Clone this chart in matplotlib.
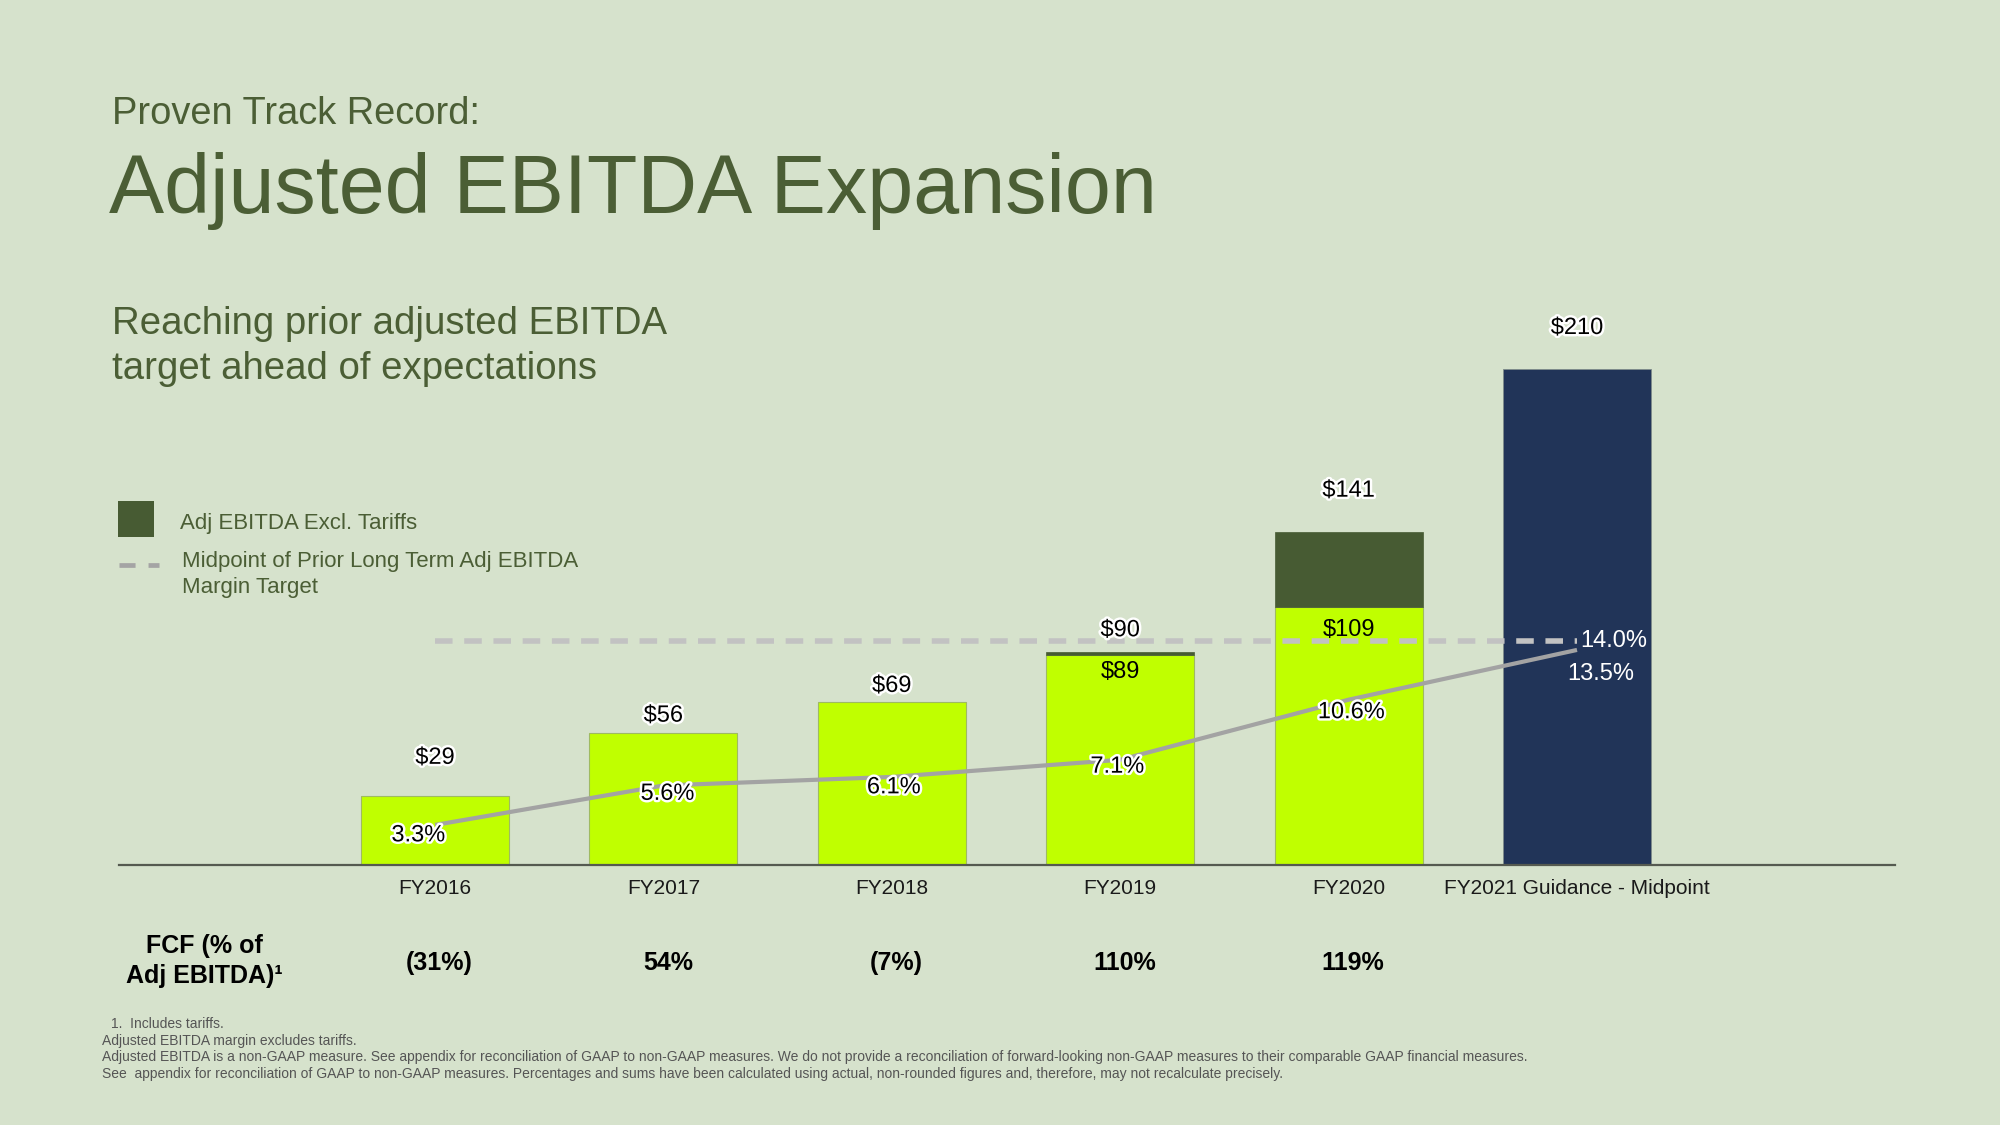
import matplotlib
matplotlib.use("Agg")
import matplotlib.pyplot as plt
import matplotlib.patheffects as pe
from matplotlib.patches import Rectangle
from matplotlib.lines import Line2D

# ---------------- data ----------------
categories = ['FY2016', 'FY2017', 'FY2018', 'FY2019', 'FY2020', 'FY2021 Guidance - Midpoint']
adj_ebitda = [29, 56, 69, 89, 109]          # incl. tariffs (lime bars)
excl_tariffs_total = [None, None, None, 90, 141]  # totals excl. tariffs
guidance = 210                               # FY2021 guidance midpoint
margin_pct = [3.3, 5.6, 6.1, 7.1, 10.6, 13.5]
target_pct = 14.0
top_labels = ['$29', '$56', '$69', '$90', '$141', '$210']
inner_labels = [None, None, None, '$89', '$109']
fcf_labels = ['(31%)', '54%', '(7%)', '110%', '119%']
footnotes = [
    "1.  Includes tariffs.",
    "Adjusted EBITDA margin excludes tariffs.",
    "Adjusted EBITDA is a non-GAAP measure. See appendix for reconciliation of GAAP to non-GAAP measures. We do not provide a reconciliation of forward-looking non-GAAP measures to their comparable GAAP financial measures.",
    "See  appendix for reconciliation of GAAP to non-GAAP measures. Percentages and sums have been calculated using actual, non-rounded figures and, therefore, may not recalculate precisely.",
]

# ---------------- style ----------------
BG = '#d6e2cc'
OLIVE = '#4b5e35'
LIME = '#c0ff00'
DARKG = '#475b33'
NAVY = '#213458'
LINEG = '#a3a3a3'
DASHG = '#c2c2c2'
FONT = 'Liberation Sans'
plt.rcParams['font.family'] = [FONT, 'DejaVu Sans']

W, H = 2000, 1125
def fx(px): return px / W
def fy(px): return 1 - px / H

fig = plt.figure(figsize=(20, 11.25), dpi=100)
fig.patch.set_facecolor(BG)

base_y = 865
top_y = 300
ax = fig.add_axes([fx(119), fy(base_y), fx(1895) - fx(119), (base_y - top_y) / H])
ax.set_facecolor('none')
spacing = 228.4
x0 = 435
ax.set_xlim(-(x0 - 119) / spacing, (1895 - x0) / spacing)
ax.set_ylim(0, (base_y - top_y) / 2.364)
for s in ['top', 'left', 'right']:
    ax.spines[s].set_visible(False)
ax.spines['bottom'].set_color('#555a50')
ax.spines['bottom'].set_linewidth(1.6)
ax.set_yticks([])
ax.set_xticks([])

ax2 = ax.twinx()
ax2.set_ylim(0.967, 0.967 + (base_y - top_y) / 17.16)
ax2.set_axis_off()

xs = list(range(len(categories)))
bw = 0.648

# bars
n_hist = len(adj_ebitda)
ax.bar(xs[:n_hist], adj_ebitda, width=bw, color=LIME, edgecolor='#9fba62', linewidth=0.8, zorder=2)
for i in range(n_hist):
    if excl_tariffs_total[i] is not None:
        ax.bar(xs[i], excl_tariffs_total[i] - adj_ebitda[i], bottom=adj_ebitda[i], width=bw,
               color=DARKG, edgecolor=DARKG, linewidth=0.5, zorder=2)
ax.bar(xs[-1], guidance, width=bw, color=NAVY, edgecolor='#7f8c8a', linewidth=0.6, zorder=2)

# margin line & target
ax2.plot(xs, margin_pct, color=LINEG, lw=3.0, zorder=3, solid_capstyle='butt')
ax2.plot([xs[0], xs[-1]], [target_pct, target_pct], color=DASHG, lw=4.0,
         linestyle=(0, (3.16, 2.1)), zorder=3)

stroke = [pe.withStroke(linewidth=3.5, foreground='white')]

# top value labels
top_vals = [adj_ebitda[0], adj_ebitda[1], adj_ebitda[2], excl_tariffs_total[3], excl_tariffs_total[4], guidance]
top_off = [27.8, 12.2, 11.5, 15.8, 29.5, 29.2]
for i, (v, lab) in enumerate(zip(top_vals, top_labels)):
    ax2.annotate(lab, xy=(xs[i], v), xycoords=ax.transData, xytext=(0, top_off[i]),
                 textcoords='offset points', ha='center', va='center', fontsize=17,
                 color='black', path_effects=stroke, zorder=5)
inner_off = [0, 0, 0, -12.2, -16.5]
for i, lab in enumerate(inner_labels):
    if lab:
        ax2.annotate(lab, xy=(xs[i], adj_ebitda[i]), xycoords=ax.transData, xytext=(0, inner_off[i]),
                     textcoords='offset points', ha='center', va='center', fontsize=17,
                     color='black', zorder=5)

# margin labels
pct_off = [(-12, -7.5), (3, -6), (1.5, -7.5), (-2, -5), (2, -9)]
for i in range(n_hist):
    ax2.annotate(f"{margin_pct[i]:.1f}%", xy=(xs[i], margin_pct[i]), xytext=pct_off[i],
                 textcoords='offset points', ha='center', va='center', fontsize=17,
                 color='black', path_effects=stroke, zorder=6)
ax2.annotate(f"{margin_pct[-1]:.1f}%", xy=(xs[-1], margin_pct[-1]), xytext=(17, -17),
             textcoords='offset points', ha='center', va='center', fontsize=17, color='white', zorder=6)
ax2.annotate(f"{target_pct:.1f}%", xy=(xs[-1], target_pct), xytext=(2, 0),
             textcoords='offset points', ha='left', va='center', fontsize=17, color='white', zorder=6)

# category labels
tr = ax.get_xaxis_transform()
for i, c in enumerate(categories):
    ax.text(xs[i], (base_y - 889) / (base_y - top_y), c, transform=tr, ha='center', va='center',
            fontsize=15, color='#1a1a1a')
# FCF row
for i, f in enumerate(fcf_labels):
    ax.text(xs[i] + 0.02, (base_y - 963) / (base_y - top_y), f, transform=tr, ha='center', va='center',
            fontsize=18, fontweight='bold', color='black')
fig.text(fx(204), fy(946), "FCF (% of", ha='center', va='center', fontsize=18, fontweight='bold', color='black')
fig.text(fx(204), fy(976), "Adj EBITDA)\u00b9", ha='center', va='center', fontsize=18, fontweight='bold', color='black')

# titles
fig.text(fx(112), fy(124), "Proven Track Record:", ha='left', va='baseline', fontsize=27.4, color=OLIVE)
fig.text(fx(109), fy(213), "Adjusted EBITDA Expansion", ha='left', va='baseline', fontsize=59.5, color=OLIVE)
fig.text(fx(112), fy(334), "Reaching prior adjusted EBITDA", ha='left', va='baseline', fontsize=27.6, color=OLIVE)
fig.text(fx(112), fy(379), "target ahead of expectations", ha='left', va='baseline', fontsize=27.6, color=OLIVE)

# legend
fig.patches.append(Rectangle((fx(118), fy(537)), fx(36), 36 / H, transform=fig.transFigure,
                             facecolor=DARKG, edgecolor='none'))
fig.text(fx(180), fy(523), "Adj EBITDA Excl. Tariffs", ha='left', va='center', fontsize=16, color=OLIVE)
fig.lines.append(Line2D([fx(119), fx(159)], [fy(565), fy(565)], transform=fig.transFigure,
                        color='#a4a4a4', lw=3.4, linestyle=(0, (3.4, 2.75))))
fig.text(fx(182), fy(562), "Midpoint of Prior Long Term Adj EBITDA", ha='left', va='center', fontsize=16, color=OLIVE)
fig.text(fx(182), fy(588), "Margin Target", ha='left', va='center', fontsize=16, color=OLIVE)

# footnotes
fn_y = [1024, 1041, 1057, 1074]
fn_x = [111, 102, 102, 102]
for t, xx, yy in zip(footnotes, fn_x, fn_y):
    fig.text(fx(xx), fy(yy), t, ha='left', va='center', fontsize=10.0, color='#555555')

fig.savefig("out.png", dpi=100, facecolor=BG)
